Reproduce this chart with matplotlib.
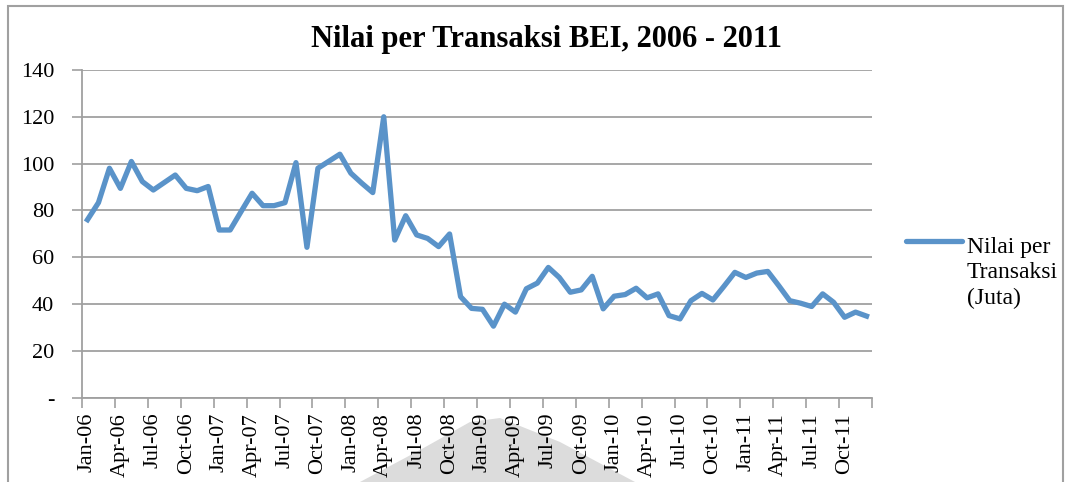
# Nilai per Transaksi BEI, 2006 - 2011
import matplotlib.pyplot as plt
from matplotlib.patches import Polygon, Rectangle
from matplotlib.lines import Line2D

# Monthly values Jan-06 .. Dec-11 (Juta)
nilai = [76, 83.3, 98, 89.4, 100.9, 92.3, 88.7, 91.9, 95.1, 89.4, 88.4, 90.2,
         71.6, 71.6, 79.5, 87.3, 82, 82, 83.3, 100.4, 64.2, 98, 101, 104,
         95.9, 91.6, 87.6, 120, 67.3, 77.7, 69.5, 68, 64.5, 69.9, 43.1, 38.1,
         37.7, 30.5, 39.9, 36.5, 46.5, 48.9, 55.6, 51.3, 45, 46, 51.8, 37.9,
         43.3, 44, 46.7, 42.6, 44.3, 35, 33.6, 41.4, 44.5, 41.7, 47.5, 53.5,
         51.3, 53.2, 53.9, 47.8, 41.4, 40.3, 38.9, 44.3, 40.7, 34.3, 36.5, 34.8]

# Labels shown on the x axis (every 3rd month)
xlabels = ['Jan-06', 'Apr-06', 'Jul-06', 'Oct-06',
           'Jan-07', 'Apr-07', 'Jul-07', 'Oct-07',
           'Jan-08', 'Apr-08', 'Jul-08', 'Oct-08',
           'Jan-09', 'Apr-09', 'Jul-09', 'Oct-09',
           'Jan-10', 'Apr-10', 'Jul-10', 'Oct-10',
           'Jan-11', 'Apr-11', 'Jul-11', 'Oct-11']

yticks = [0, 20, 40, 60, 80, 100, 120, 140]
ylabels = ['-', '20', '40', '60', '80', '100', '120', '140']

grey = '#a0a0a0'
blue = '#5a93c9'
serif = 'Liberation Serif'

fig = plt.figure(figsize=(10.65, 4.82), dpi=100)
ax = fig.add_axes([0.077, 0.1753, 0.7418, 0.6795])

x = list(range(len(nilai)))
ax.plot(x, nilai, color=blue, linewidth=3.8, solid_joinstyle='round', zorder=3)

ax.set_xlim(-0.5, len(nilai) - 0.5)
ax.set_ylim(0, 140)

# y axis
ax.set_yticks(yticks)
ax.set_yticklabels(ylabels, fontfamily=serif, fontsize=16)
ax.tick_params(axis='y', length=7, width=1.2, color=grey, pad=13)
ax.grid(axis='y', color=grey, linewidth=1.3)
ax.set_axisbelow(True)

# x axis: tick marks between categories, labels on category centres
ax.set_xticks([i - 0.5 for i in range(0, len(nilai) + 1, 3)])
ax.set_xticklabels([])
ax.tick_params(axis='x', which='major', length=7, width=1.2, color=grey)
ax.set_xticks(list(range(0, len(nilai), 3)), minor=True)
ax.set_xticklabels(xlabels, minor=True, rotation=90, fontfamily=serif, fontsize=16)
ax.tick_params(axis='x', which='minor', length=0, pad=11)

for s in ['top', 'right']:
    ax.spines[s].set_visible(False)
for s in ['left', 'bottom']:
    ax.spines[s].set_color(grey)
    ax.spines[s].set_linewidth(1.3)

# Title
fig.text(0.513, 1 - 47 / 482, 'Nilai per Transaksi BEI, 2006 - 2011',
         ha='center', va='baseline', fontfamily=serif, fontsize=22, fontweight='bold')

# Legend drawn by hand on the right
fig.add_artist(Line2D([906 / 1065, 962 / 1065], [1 - 241 / 482, 1 - 241 / 482],
                      color=blue, linewidth=3.8, solid_capstyle='round'))
fig.text(967 / 1065, 1 - 273 / 482, 'Nilai per\nTransaksi\n(Juta)',
         ha='left', va='center', fontfamily=serif, fontsize=17, linespacing=1.3)

# Outer chart border
fig.add_artist(Rectangle((8 / 1065, -0.1), 1055 / 1065, 1.1 - 6 / 482, fill=False,
                         edgecolor=grey, linewidth=1.5))

# Light grey shape behind the bottom labels
fig.add_artist(Polygon([(360 / 1065, 0), (420 / 1065, 1 - 450 / 482),
                        (470 / 1065, 1 - 422 / 482), (500 / 1065, 1 - 418 / 482),
                        (560 / 1065, 1 - 442 / 482), (635 / 1065, 0)],
                       closed=True, facecolor='#dcdcdc', edgecolor='none', zorder=-1))

plt.savefig('out.png', dpi=100)
